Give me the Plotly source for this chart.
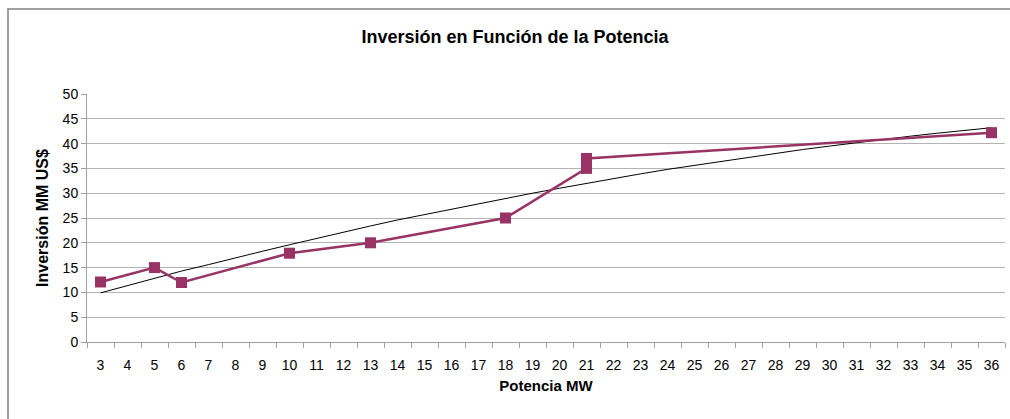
import plotly.graph_objects as go

# categories on the x axis (Potencia MW)
categorias = [str(v) for v in range(3, 37)]

# measured series
potencia = ["3", "5", "6", "10", "13", "18", "21", "21", "36"]
inversion = [12.1, 15.0, 12.0, 17.9, 20.0, 25.0, 35.0, 37.0, 42.2]

# trend line read at every category
tendencia = [9.9, 11.4, 12.8, 14.3, 15.6, 17.0, 18.3, 19.6, 20.9, 22.2, 23.4, 24.6,
             25.7, 26.8, 27.9, 29.0, 30.0, 31.0, 32.0, 33.0, 33.9, 34.8, 35.6, 36.5,
             37.3, 38.1, 38.8, 39.5, 40.2, 40.9, 41.5, 42.1, 42.7, 43.2]

PLUM = "#993366"
GRID = "#B3B3B3"
AXIS = "#A0A0A0"
FONT = "Liberation Sans"

fig = go.Figure()
fig.add_trace(go.Scatter(
    x=categorias, y=tendencia, mode="lines",
    line=dict(color="black", width=1),
    hoverinfo="skip", showlegend=False,
))
fig.add_trace(go.Scatter(
    x=potencia, y=inversion, mode="lines+markers",
    line=dict(color=PLUM, width=2.5),
    marker=dict(symbol="square", size=11, color=PLUM),
    showlegend=False,
))

fig.update_layout(
    width=1010, height=419,
    margin=dict(l=87, r=5, t=94, b=77),
    paper_bgcolor="white", plot_bgcolor="white",
    font=dict(family=FONT, size=14, color="black"),
    title=dict(
        text="<b>Inversión en Función de la Potencia</b>",
        x=0.51, xanchor="center", y=0.912, yanchor="middle",
        font=dict(family=FONT, size=18, color="black"),
    ),
    xaxis=dict(
        type="category", categoryorder="array", categoryarray=categorias,
        range=[-0.5, 33.5], tickson="boundaries",
        ticks="outside", ticklen=5, tickcolor=AXIS,
        showline=True, linecolor=AXIS, linewidth=1,
        showgrid=False, zeroline=False,
        tickfont=dict(size=14), ticklabelstandoff=10,
        title=dict(text="<b>Potencia MW</b>", font=dict(size=15), standoff=8),
    ),
    yaxis=dict(
        range=[0, 50], dtick=5, tick0=0,
        ticks="outside", ticklen=5, tickcolor=AXIS,
        showline=True, linecolor=AXIS, linewidth=1,
        showgrid=True, gridcolor=GRID, gridwidth=1,
        zeroline=False,
        tickfont=dict(size=14),
        title=dict(text="<b>Inversión MM US$</b>", font=dict(size=16), standoff=10),
    ),
    shapes=[dict(
        type="rect", xref="paper", yref="paper",
        x0=(8 - 87) / 918, x1=(1014 - 87) / 918,
        y0=(342 - 430) / 248, y1=(342 - 9) / 248,
        line=dict(color="#808080", width=1.5), layer="below",
    )],
)

fig.write_html("out.html", config={"displayModeBar": False},
               post_script="document.body.style.margin='0';")
